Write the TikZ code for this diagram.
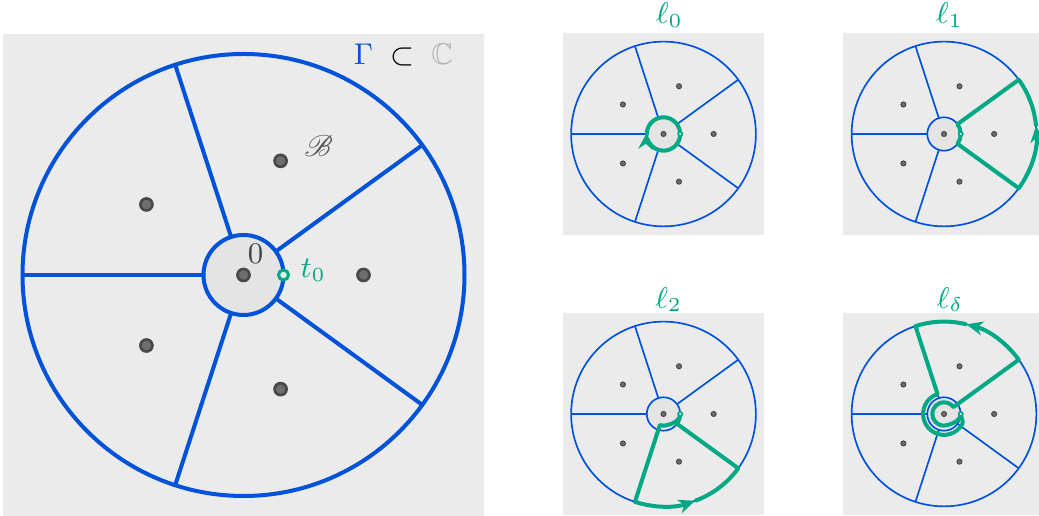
\documentclass[tikz,border=0pt]{standalone}
\usepackage{amssymb}
\usepackage{mathrsfs}
\usetikzlibrary{arrows.meta}

\definecolor{gammablue}{RGB}{0,82,217}
\definecolor{loopgreen}{RGB}{0,168,132}
\definecolor{panelgray}{RGB}{235,235,235}
\definecolor{diskgray}{RGB}{228,228,228}
\definecolor{dotgray}{RGB}{72,72,72}
\definecolor{dotfill}{RGB}{110,110,110}
\definecolor{labelgray}{RGB}{70,70,70}

% slit disk: outer radius 221, inner radius 40, punctures at radius 120
\newcommand{\slitdisk}[2]{%
  \fill[panelgray] (-240.5,-241) rectangle (240.5,241);
  \draw[gammablue, line width=#1, fill=diskgray] (0,0) circle[radius=40];
  \draw[gammablue, line width=#1] (0,0) circle[radius=221];
  \foreach \a in {36,108,180,252,324}
    \draw[gammablue, line width=#1] (\a:40) -- (\a:221);
  \filldraw[dotgray, fill=dotfill, line width=#2] (0,0) circle[radius=6];
  \foreach \a in {0,72,144,216,288}
    \filldraw[dotgray, fill=dotfill, line width=#2] (\a:120) circle[radius=6];
}

\begin{document}
\begin{tikzpicture}[
    x=0.3pt, y=0.3pt,
    font=\fontsize{9}{11}\selectfont,
    loopline/.style={loopgreen, line width=1.2pt, line join=round},
    looptip/.style={-{Stealth[length=5pt, width=4.2pt]}},
    basepoint/.style={loopgreen, fill=loopgreen!15, line width=#1},
    looplabel/.style={text=loopgreen, anchor=base},
]
\useasboundingbox (0,0) rectangle (1039,516);

% Gamma inside C
\begin{scope}[shift={(243.5,241)}]
  \slitdisk{1.2pt}{0.8pt}
  \filldraw[basepoint=0.9pt] (0:40) circle[radius=5];
  \node[text=labelgray] (zero) at (12,21) {$0$};
  \node[text=loopgreen, anchor=base west, inner sep=0pt] (tzero) at (56.5,-3) {$t_0$};
  \node[text=black!65] (branch) at (75,129) {$\mathscr{B}$};
  \node[anchor=base] (gammac) at (160,210)
    {$\textcolor{gammablue}{\Gamma}\;\subset\;\textcolor{black!30}{\mathbb{C}}$};
\end{scope}

% loop l_0
\begin{scope}[shift={(663.5,382)}, scale=0.418]
  \slitdisk{0.5pt}{0.3pt}
  \draw[loopline, looptip] (0:40) arc[start angle=0, end angle=-185, radius=40];
  \draw[loopline] (185:40) arc[start angle=185, end angle=0, radius=40];
  \filldraw[basepoint=0.5pt] (0:40) circle[radius=5];
\end{scope}
\node[looplabel] (lzero) at (669.5,492) {$\ell_0$};

% loop l_1
\begin{scope}[shift={(944,382)}, scale=0.418]
  \slitdisk{0.5pt}{0.3pt}
  \draw[loopline, looptip] (0:40) arc[start angle=0, end angle=-36, radius=40]
    -- (-36:221) arc[start angle=-36, end angle=5, radius=221];
  \draw[loopline] (5:221) arc[start angle=5, end angle=36, radius=221]
    -- (36:40) arc[start angle=36, end angle=0, radius=40];
  \filldraw[basepoint=0.5pt] (0:40) circle[radius=5];
\end{scope}
\node[looplabel] (lone) at (949.5,492) {$\ell_1$};

% loop l_2
\begin{scope}[shift={(663.5,102)}, scale=0.418]
  \slitdisk{0.5pt}{0.3pt}
  \draw[loopline, looptip] (0:40) to[out=-90, in=15] (-75:28)
    arc[start angle=-75, end angle=-108, radius=28]
    -- (-108:221) arc[start angle=-108, end angle=-70, radius=221];
  \draw[loopline] (-70:221) arc[start angle=-70, end angle=-36, radius=221]
    -- (-36:40) arc[start angle=-36, end angle=0, radius=40];
  \filldraw[basepoint=0.5pt] (0:40) circle[radius=5];
\end{scope}
\node[looplabel] (ltwo) at (668.7,207.7) {$\ell_2$};

% loop l_delta
\begin{scope}[shift={(944,102)}, scale=0.418]
  \slitdisk{0.5pt}{0.3pt}
  \draw[loopline, looptip] (0:40) to[out=-90, in=20] (-70:28)
    arc[start angle=-70, end angle=-324, radius=28]
    -- (36:221) arc[start angle=36, end angle=76, radius=221];
  \draw[loopline] (76:221) arc[start angle=76, end angle=108, radius=221]
    -- (108:50) arc[start angle=108, end angle=330, radius=50]
    to[out=60, in=-90] (0:40);
  \filldraw[basepoint=0.5pt] (0:40) circle[radius=5];
\end{scope}
\node[looplabel] (ldelta) at (950,207.7) {$\ell_\delta$};

\end{tikzpicture}
\end{document}
